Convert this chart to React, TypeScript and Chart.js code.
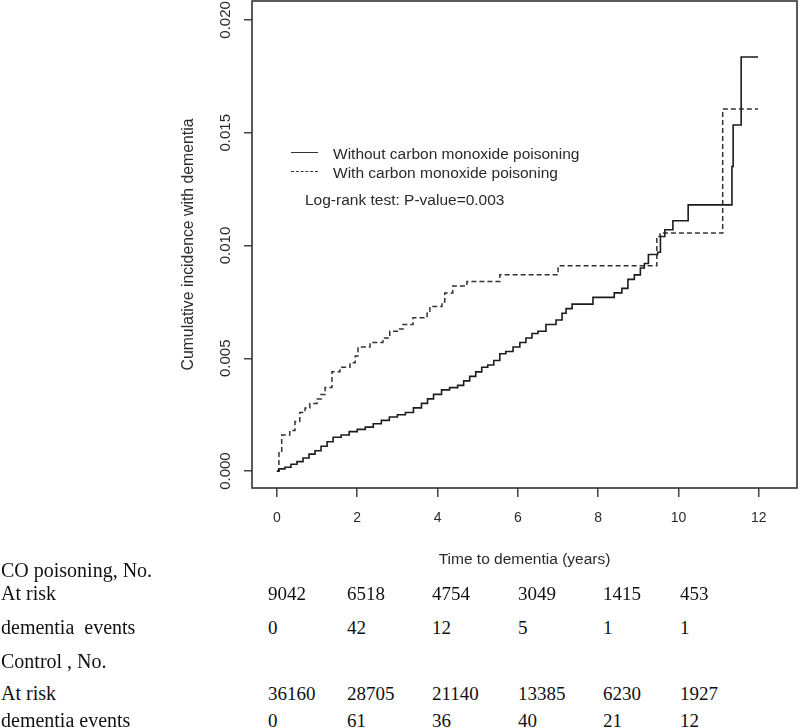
import React, { useEffect, useRef } from "react";
import { Chart, registerables } from "chart.js";

Chart.register(...registerables);

// ---------- data ----------
const xTicks = [0, 2, 4, 6, 8, 10, 12];
const xTickLabels = ["0", "2", "4", "6", "8", "10", "12"];
const yTicks = [0, 0.005, 0.01, 0.015, 0.02];
const yTickLabels = ["0.000", "0.005", "0.010", "0.015", "0.020"];

const seriesNames = ["Without carbon monoxide poisoning", "With carbon monoxide poisoning"];
const pValueText = "Log-rank test: P-value=0.003";

const timesWithout = [0, 0.05, 0.2, 0.35, 0.5, 0.65, 0.8, 0.95, 1.1, 1.25, 1.4, 1.6, 1.8, 2.0, 2.2, 2.4, 2.6, 2.8, 3.0, 3.2, 3.4, 3.6, 3.75, 3.9, 4.1, 4.3, 4.5, 4.65, 4.8, 4.95, 5.1, 5.25, 5.4, 5.55, 5.7, 5.88, 6.05, 6.2, 6.35, 6.5, 6.7, 6.95, 7.1, 7.2, 7.35, 7.87, 8.4, 8.59, 8.74, 8.9, 9.05, 9.15, 9.25, 9.48, 9.55, 9.66, 9.86, 10.24, 11.33, 11.36, 11.56, 11.98];
const incidenceWithout = [0, 0.0001, 0.00017, 0.0003, 0.00042, 0.00058, 0.00075, 0.0009, 0.0011, 0.0013, 0.0015, 0.0016, 0.00175, 0.00185, 0.00195, 0.0021, 0.00225, 0.0024, 0.0025, 0.0026, 0.0028, 0.003, 0.0032, 0.0034, 0.0036, 0.0037, 0.0038, 0.004, 0.0042, 0.0044, 0.0046, 0.0047, 0.0049, 0.0052, 0.0053, 0.0055, 0.0057, 0.0059, 0.0061, 0.0062, 0.0065, 0.0067, 0.007, 0.0072, 0.0074, 0.0077, 0.0079, 0.0081, 0.0085, 0.0087, 0.009, 0.0092, 0.0096, 0.0097, 0.0104, 0.0107, 0.0111, 0.0118, 0.0135, 0.01534, 0.01836, 0.01836];

const timesWith = [0, 0.05, 0.12, 0.32, 0.45, 0.57, 0.7, 0.82, 1.0, 1.1, 1.2, 1.37, 1.57, 1.82, 1.95, 2.02, 2.32, 2.64, 2.81, 3.0, 3.14, 3.39, 3.74, 3.81, 4.11, 4.18, 4.38, 4.73, 5.55, 7.0, 9.46, 9.54, 11.1, 11.98];
const incidenceWith = [0, 0.0008, 0.0016, 0.0018, 0.0022, 0.0026, 0.0028, 0.003, 0.0032, 0.0034, 0.0037, 0.0044, 0.0046, 0.0048, 0.0051, 0.0055, 0.0057, 0.0059, 0.0062, 0.0063, 0.0065, 0.0068, 0.007, 0.0073, 0.0075, 0.0079, 0.0082, 0.0084, 0.0087, 0.0091, 0.0104, 0.01055, 0.01605, 0.01605];

// risk table
const coRowLabels = ["CO poisoning, No.", "At risk", "dementia  events"];
const ctlRowLabels = ["Control , No.", "At risk", "dementia events"];
const coAtRisk = [9042, 6518, 4754, 3049, 1415, 453];
const coEvents = [0, 42, 12, 5, 1, 1];
const ctlAtRisk = [36160, 28705, 21140, 13385, 6230, 1927];
const ctlEvents = [0, 61, 36, 40, 21, 12];

// ---------- layout constants ----------
const SANS = '"Liberation Sans", Arial, Helvetica, sans-serif';
const SERIF = '"Liberation Serif", "Times New Roman", serif';
const tableColX = [268, 347, 432, 518, 603, 680];
const tableBaselines = [577, 600, 634, 668, 700, 727];

function pts(t: number[], v: number[]) {
  const n = Math.min(t.length, v.length);
  const out: { x: number; y: number }[] = [];
  for (let i = 0; i < n; i++) out.push({ x: t[i], y: v[i] });
  return out;
}

const framePlugin = {
  id: "frameAndYLabels",
  afterDraw(chart: any) {
    const { ctx, chartArea, scales } = chart;
    ctx.save();
    ctx.strokeStyle = "#333";
    ctx.lineWidth = 1.6;
    ctx.strokeRect(chartArea.left, chartArea.top, chartArea.right - chartArea.left, chartArea.bottom - chartArea.top);
    // rotated y tick labels (R style)
    ctx.fillStyle = "#2a2a2a";
    ctx.font = `15px ${SANS}`;
    ctx.textAlign = "center";
    ctx.textBaseline = "middle";
    yTicks.forEach((v, i) => {
      const y = scales.y.getPixelForValue(v);
      ctx.save();
      ctx.translate(226, y);
      ctx.rotate(-Math.PI / 2);
      ctx.fillText(yTickLabels[i], 0, 0);
      ctx.restore();
    });
    ctx.restore();
  },
};

function ChartCanvas() {
  const ref = useRef<HTMLCanvasElement | null>(null);
  useEffect(() => {
    if (!ref.current) return;
    const chart = new Chart(ref.current, {
      type: "line",
      data: {
        datasets: [
          {
            label: seriesNames[0],
            data: pts(timesWithout, incidenceWithout),
            borderColor: "#1c1c1c",
            borderWidth: 1.6,
            stepped: true,
            pointRadius: 0,
            fill: false,
          },
          {
            label: seriesNames[1],
            data: pts(timesWith, incidenceWith),
            borderColor: "#333333",
            borderWidth: 1.5,
            borderDash: [5, 3],
            stepped: true,
            pointRadius: 0,
            fill: false,
          },
        ],
      },
      options: {
        animation: false,
        responsive: false,
        maintainAspectRatio: false,
        layout: { padding: { top: 1, right: 3, left: 0, bottom: 0 } },
        plugins: { legend: { display: false }, tooltip: { enabled: false } },
        scales: {
          x: {
            type: "linear",
            min: -0.62,
            max: 12.95,
            afterBuildTicks: (axis: any) => {
              axis.ticks = xTicks.map((v) => ({ value: v }));
            },
            afterFit: (s: any) => {
              s.height = 92;
            },
            grid: { drawOnChartArea: false, drawTicks: true, tickLength: 9, color: "#444", lineWidth: 1.5 },
            border: { display: false },
            ticks: {
              autoSkip: false,
              maxRotation: 0,
              minRotation: 0,
              padding: 13,
              color: "#2a2a2a",
              font: { family: SANS, size: 14 },
              callback: (_v: any, i: number) => xTickLabels[i],
            },
            title: {
              display: true,
              text: "Time to dementia (years)",
              color: "#2a2a2a",
              font: { family: SANS, size: 15.5 },
              padding: { top: 0, bottom: 11 },
            },
          },
          y: {
            type: "linear",
            min: -0.00075,
            max: 0.02084,
            afterBuildTicks: (axis: any) => {
              axis.ticks = yTicks.map((v) => ({ value: v }));
            },
            afterFit: (s: any) => {
              s.width = 252;
            },
            grid: { drawOnChartArea: false, drawTicks: true, tickLength: 8, color: "#444", lineWidth: 1.5 },
            border: { display: false },
            ticks: { display: false },
            title: {
              display: true,
              text: "Cumulative incidence with dementia",
              color: "#2a2a2a",
              font: { family: SANS, size: 15.8 },
              padding: { top: 179.5, bottom: 0 },
            },
          },
        },
      },
      plugins: [framePlugin],
    } as any);
    return () => chart.destroy();
  }, []);
  return <canvas ref={ref} width={800} height={580} style={{ position: "absolute", left: 0, top: 0 }} />;
}

function TextAt(props: { x: number; baseline: number; text: string; font: string; size: number; color?: string }) {
  const lh = Math.round(props.size * 1.3);
  const asc = props.font === SERIF ? 0.891 : 0.905;
  const desc = props.font === SERIF ? 0.216 : 0.212;
  const top = props.baseline - ((lh - (asc + desc) * props.size) / 2 + asc * props.size);
  return (
    <div
      style={{
        position: "absolute",
        left: props.x,
        top,
        height: lh,
        lineHeight: `${lh}px`,
        fontFamily: props.font,
        fontSize: props.size,
        color: props.color || "#111",
        whiteSpace: "pre",
      }}
    >
      {props.text}
    </div>
  );
}

export default function App() {
  const rows: { label: string; values: number[] | null }[] = [
    { label: coRowLabels[0], values: null },
    { label: coRowLabels[1], values: coAtRisk },
    { label: coRowLabels[2], values: coEvents },
    { label: ctlRowLabels[0], values: null },
    { label: ctlRowLabels[1], values: ctlAtRisk },
    { label: ctlRowLabels[2], values: ctlEvents },
  ];
  return (
    <div style={{ position: "absolute", left: 0, top: 0, width: 800, height: 728, overflow: "hidden", background: "#fff" }}>
      <ChartCanvas />
      {/* legend */}
      <div style={{ position: "absolute", left: 291, top: 152, width: 27, borderTop: "1.5px solid #333" }} />
      <div style={{ position: "absolute", left: 291, top: 171, width: 27, borderTop: "1.5px dashed #333" }} />
      <TextAt x={333} baseline={159} text={seriesNames[0]} font={SANS} size={15.5} color="#2a2a2a" />
      <TextAt x={333} baseline={178} text={seriesNames[1]} font={SANS} size={15.5} color="#2a2a2a" />
      <TextAt x={305} baseline={205} text={pValueText} font={SANS} size={15.5} color="#2a2a2a" />
      {/* risk table */}
      {rows.map((r, ri) => (
        <React.Fragment key={ri}>
          <TextAt x={1} baseline={tableBaselines[ri]} text={r.label} font={SERIF} size={20} />
          {r.values &&
            r.values.map((v, ci) => (
              <TextAt key={ci} x={tableColX[ci]} baseline={tableBaselines[ri]} text={String(v)} font={SERIF} size={19} />
            ))}
        </React.Fragment>
      ))}
    </div>
  );
}
